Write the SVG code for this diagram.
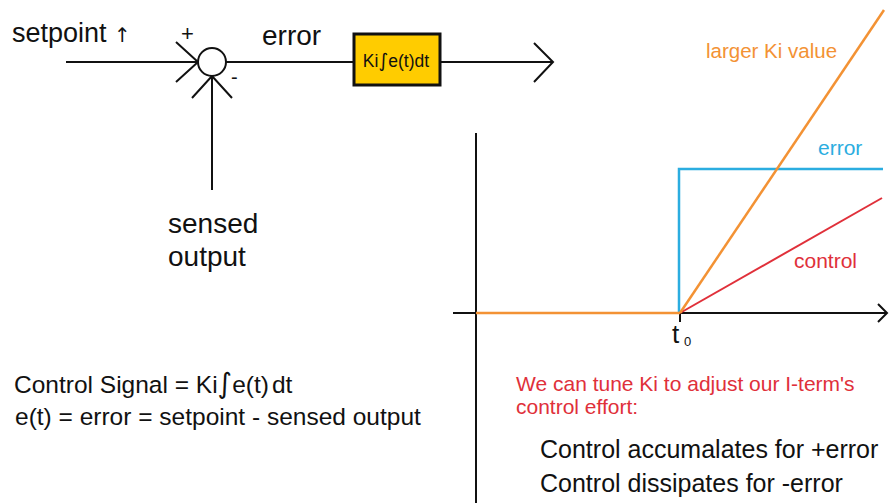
<svg xmlns="http://www.w3.org/2000/svg" width="890" height="503" viewBox="0 0 890 503">
<style>
text{font-family:"Liberation Sans",Arial,sans-serif;}
.k{fill:#111;}
.sym{font-family:"DejaVu Sans",sans-serif;}
.ln{stroke:#111;stroke-width:2;fill:none;}
.blue{stroke:#2BADE0;stroke-width:2.5;fill:none;}
.org{stroke:#F39234;stroke-width:2.5;fill:none;}
.red{stroke:#E0303A;stroke-width:2;fill:none;}
</style>
<rect width="890" height="503" fill="#fff"/>
<g id="connectors">
<line class="ln" x1="66" y1="62" x2="198" y2="62"/>
<polyline class="ln" points="176,42 198,62 176,82"/>
<line class="ln" x1="212" y1="190" x2="212" y2="76"/>
<polyline class="ln" points="192,98 212,76 232,98"/>
<line class="ln" x1="226" y1="62" x2="354" y2="62"/>
<line class="ln" x1="440" y1="62" x2="552" y2="62"/>
<polyline class="ln" points="534,43 553,62 534,82"/>
</g>
<g id="sum">
<circle cx="212" cy="62" r="14" fill="#fff" stroke="#111" stroke-width="2"/>
<text x="181" y="41" font-size="22" class="k">+</text>
<text x="231" y="84" font-size="20" class="k">-</text>
</g>
<g id="integrator">
<rect x="354" y="34" width="86" height="51" fill="#FFCC00" stroke="#111" stroke-width="3"/>
<text x="396" y="67" font-size="17.5" text-anchor="middle" class="k">Ki<tspan class="sym" font-size="19">∫</tspan>e(t)dt</text>
</g>
<g id="labels">
<text x="12" y="42" font-size="27" class="k">setpoint <tspan class="sym" font-size="20">↑</tspan></text>
<text x="262" y="45" font-size="28" class="k">error</text>
<text x="168" y="233" font-size="28" class="k">sensed</text>
<text x="168" y="266" font-size="28" class="k">output</text>
</g>
<g id="graph">
<line class="ln" x1="476" y1="133" x2="476" y2="503"/>
<line class="ln" x1="453" y1="313" x2="886" y2="313"/>
<polyline class="ln" points="878,304 887,313 878,322" stroke-width="2.5"/>
<line class="ln" x1="680" y1="313" x2="680" y2="322" stroke-width="2.5"/>
<polyline class="blue" points="679,313 679,169 883,169"/>
<line class="red" x1="680" y1="313" x2="882" y2="198"/>
<line class="org" x1="476" y1="313" x2="680" y2="313"/>
<line class="org" x1="680" y1="313" x2="884" y2="10"/>
<text x="672" y="343" font-size="26" class="k">t</text>
<text x="684" y="346" font-size="13" class="k">0</text>
<text x="706" y="58" font-size="20.5" fill="#F39234">larger Ki value</text>
<text x="818" y="155" font-size="21" fill="#2BADE0">error</text>
<text x="794" y="268" font-size="21" fill="#E0303A">control</text>
</g>
<g id="notes">
<text x="14" y="393" font-size="24.5" class="k">Control Signal = Ki<tspan class="sym" font-size="28">∫</tspan>e(t)<tspan dx="3">dt</tspan></text>
<text x="15" y="425" font-size="24.5" class="k">e(t) = error = setpoint - sensed output</text>
<text x="516" y="391" font-size="21" fill="#E0303A">We can tune Ki to adjust our I-term's</text>
<text x="516" y="414" font-size="21" fill="#E0303A">control effort:</text>
<text x="540" y="458" font-size="25" class="k">Control accumalates for +error</text>
<text x="540" y="492" font-size="25" class="k">Control dissipates for -error</text>
</g>
</svg>
